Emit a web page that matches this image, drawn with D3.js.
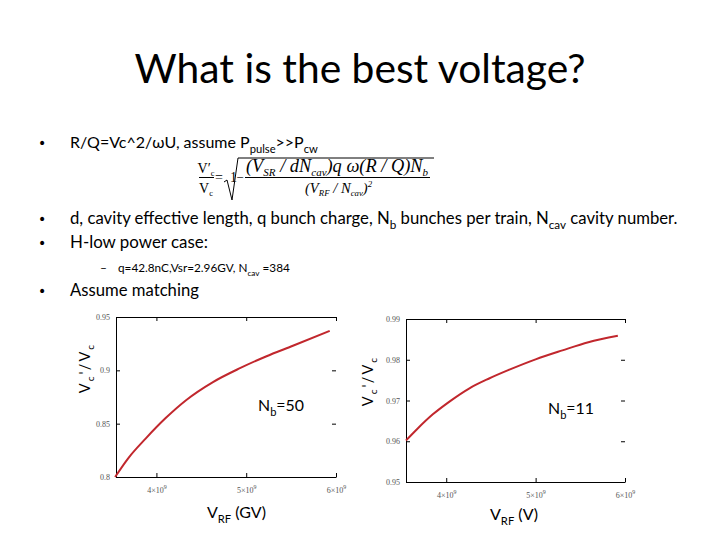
<!DOCTYPE html>
<html>
<head>
<meta charset="utf-8">
<script src="https://cdn.jsdelivr.net/npm/d3@7"></script>
<style>
  body { margin: 0; background: #fff; }
  svg { display: block; }
  .tick text { font-family: "Liberation Serif", serif; fill: #555; }
</style>
</head>
<body>
<svg id="slide" width="720" height="540"></svg>
<script>
// values
var vrfLeft = [3.54e9, 3.69e9, 3.88e9, 4.10e9, 4.33e9, 4.63e9, 4.93e9, 5.22e9, 5.52e9, 5.93e9];
var ratioLeft = [0.800, 0.818, 0.836, 0.855, 0.872, 0.889, 0.902, 0.913, 0.923, 0.937];

var vrfRight = [3.55e9, 3.67e9, 3.85e9, 4.04e9, 4.26e9, 4.48e9, 4.70e9, 5.00e9, 5.30e9, 5.59e9, 5.92e9];
var ratioRight = [0.9602, 0.9629, 0.9666, 0.9698, 0.9730, 0.9754, 0.9775, 0.9801, 0.9823, 0.9843, 0.9859];

var xTicks = [4e9, 5e9, 6e9];
var xTickLabels = ["4", "5", "6"];
var yTicksLeft = [0.8, 0.85, 0.9, 0.95];
var yTickLabelsLeft = ["0.8", "0.85", "0.9", "0.95"];
var yTicksRight = [0.95, 0.96, 0.97, 0.98, 0.99];
var yTickLabelsRight = ["0.95", "0.96", "0.97", "0.98", "0.99"];

var svg = d3.select("#slide");
var sans = "Lato, 'Open Sans', sans-serif";
var serif = "'Liberation Serif', 'DejaVu Serif', serif";

// text with sub/superscript parts, optionally refit to a width
function rich(g, x, y, parts, size, o) {
  o = o || {};
  var subK = o.sub == null ? 0.3 : o.sub;
  var smallK = o.small || 0.7;
  function build(fs) {
    var t = g.append("text")
      .attr("x", x).attr("y", y)
      .attr("text-anchor", o.anchor || "start")
      .style("font-family", o.font || sans)
      .style("font-style", o.italic ? "italic" : null)
      .style("letter-spacing", o.spacing ? o.spacing + "px" : null)
      .style("font-size", fs + "px")
      .attr("fill", o.fill || "#000");
    if (o.transform) t.attr("transform", o.transform);
    var shift = 0;
    parts.forEach(function (p) {
      var kind = p[1];
      var target = kind === "sub" ? fs * subK : kind === "sup" ? -fs * 0.42 : 0;
      t.append("tspan")
        .attr("dy", target - shift)
        .style("font-size", kind ? fs * smallK + "px" : null)
        .text(p[0]);
      shift = target;
    });
    return t;
  }
  var t = build(size);
  if (o.width) {
    var w = t.node().getComputedTextLength();
    t.remove();
    t = build(size * o.width / w);
  }
  return t;
}

// title
rich(svg, 360, 83, [["What is the best voltage?"]], 40, { anchor: "middle", width: 451 });

// bullets
[148, 224, 248, 296].forEach(function (y) {
  svg.append("text").attr("x", 38).attr("y", y)
    .style("font-family", "'DejaVu Sans', sans-serif").style("font-size", "14px")
    .text("•");
});
rich(svg, 70, 148, [["R/Q=Vc^2/ωU, assume P"], ["pulse", "sub"], [">>P"], ["cw", "sub"]], 15, { width: 248 });
rich(svg, 70, 224, [["d, cavity effective length, q bunch charge, N"], ["b", "sub"],
  [" bunches per train, N"], ["cav", "sub"], [" cavity number."]], 16, { width: 608 });
rich(svg, 70, 248, [["H-low power case:"]], 16, { width: 138 });
svg.append("text").attr("x", 100).attr("y", 272)
  .style("font-family", sans).style("font-size", "12px").text("–");
rich(svg, 118, 272, [["q=42.8nC,Vsr=2.96GV, N"], ["cav", "sub"], [" =384"]], 12, { width: 172 });
rich(svg, 70, 296, [["Assume matching"]], 16, { width: 129 });

// formula
var fm = svg.append("g");
var fo = { font: serif, anchor: "middle", sub: 0.2, small: 0.6 };
rich(fm, 206, 173, [["V′"], ["c", "sub"]], 14, fo);
rich(fm, 206, 193, [["V"], ["c", "sub"]], 14, fo);
fm.append("line").attr("x1", 199).attr("x2", 214).attr("y1", 177.5).attr("y2", 177.5)
  .attr("stroke", "#000").attr("stroke-width", 1);
rich(fm, 219, 182, [["="]], 14, { font: serif, anchor: "middle" });
fm.append("path").attr("d", "M224,182 L227,180 L232,200 L238,158 L434,158")
  .attr("fill", "none").attr("stroke", "#000").attr("stroke-width", 1);
rich(fm, 233.5, 182, [["1"]], 14, { font: serif, anchor: "middle" });
rich(fm, 240, 182, [["−"]], 13, { font: serif, anchor: "middle" });
rich(fm, 246, 172, [["(V"], ["SR", "sub"], [" / dN"], ["cav", "sub"], [")q ω(R / Q)N"], ["b", "sub"]],
  14, { font: serif, italic: true, width: 182, sub: 0.2, small: 0.6 });
fm.append("line").attr("x1", 245).attr("x2", 430).attr("y1", 177.5).attr("y2", 177.5)
  .attr("stroke", "#000").attr("stroke-width", 1);
rich(fm, 305, 193, [["(V"], ["RF", "sub"], [" / N"], ["cav", "sub"], [")"], ["2", "sup"]],
  14, { font: serif, italic: true, width: 67, sub: 0.2, small: 0.6 });

// charts
function chart(cfg) {
  var x = d3.scaleLinear().domain([3.55e9, 6e9]).range([cfg.left, cfg.right]);
  var y = d3.scaleLinear().domain(cfg.yDomain).range([cfg.bottom, cfg.top]);
  var g = svg.append("g");

  var fmtX = function (d) { return xTickLabels[xTicks.indexOf(d)]; };
  var fmtY = function (d) { return cfg.yLabels[cfg.yTicks.indexOf(d)]; };

  var gx = g.append("g").attr("transform", "translate(0," + cfg.bottom + ")")
    .call(d3.axisBottom(x).tickValues(xTicks).tickSizeInner(-4).tickSizeOuter(0)
      .tickPadding(10).tickFormat(""));
  gx.selectAll(".tick text").each(function (d) {
    var t = d3.select(this).style("font-size", "8px");
    t.append("tspan").text(fmtX(d) + "×10");
    t.append("tspan").attr("dy", -4).style("font-size", "6px").text("9");
  });

  g.append("g").attr("transform", "translate(0," + cfg.top + ")")
    .call(d3.axisTop(x).tickValues(xTicks).tickSizeInner(-4).tickSizeOuter(0).tickFormat(""));

  g.append("g").attr("transform", "translate(" + cfg.left + ",0)")
    .call(d3.axisLeft(y).tickValues(cfg.yTicks).tickSizeInner(-4).tickSizeOuter(0)
      .tickPadding(6).tickFormat(fmtY))
    .selectAll(".tick text").style("font-size", "8px");

  var gr = g.append("g").attr("transform", "translate(" + cfg.right + ",0)")
    .call(d3.axisRight(y).tickValues(cfg.yTicks).tickSizeInner(-4).tickSizeOuter(0).tickFormat(""));
  gr.select(".domain").remove();

  g.selectAll(".domain").attr("stroke", "#000");
  g.selectAll(".tick line").attr("stroke", "#000");

  var line = d3.line()
    .x(function (d) { return x(d[0]); })
    .y(function (d) { return y(d[1]); })
    .curve(d3.curveMonotoneX);
  g.append("path")
    .datum(cfg.xs.map(function (v, i) { return [v, cfg.ys[i]]; }))
    .attr("fill", "none")
    .attr("stroke", "#c1272d")
    .attr("stroke-width", 2)
    .attr("d", line);

  rich(svg, cfg.nbX, cfg.nbY, [["N"], ["b", "sub"], [cfg.nb]], 16, { width: 46 });
  rich(svg, cfg.vx, cfg.vy, [["V"], ["RF", "sub"], [cfg.unit]], 16, { width: cfg.vw });
  rich(svg, 0, 0, [["V"], ["c", "sub"], ["'/V"], ["c", "sub"]], 15,
    { anchor: "middle", spacing: 2, width: 50,
      transform: "translate(" + cfg.labX + "," + cfg.labY + ") rotate(-90)" });
}

chart({
  left: 116, right: 336, top: 317, bottom: 477,
  yDomain: [0.8, 0.95], yTicks: yTicksLeft, yLabels: yTickLabelsLeft,
  xs: vrfLeft, ys: ratioLeft,
  nb: "=50", nbX: 258, nbY: 411,
  unit: " (GV)", vx: 207, vy: 518, vw: 59,
  labX: 90, labY: 368
});

chart({
  left: 406, right: 625, top: 319, bottom: 482,
  yDomain: [0.95, 0.99], yTicks: yTicksRight, yLabels: yTickLabelsRight,
  xs: vrfRight, ys: ratioRight,
  nb: "=11", nbX: 548, nbY: 414,
  unit: " (V)", vx: 490, vy: 520, vw: 48,
  labX: 373, labY: 381
});
</script>
</body>
</html>
